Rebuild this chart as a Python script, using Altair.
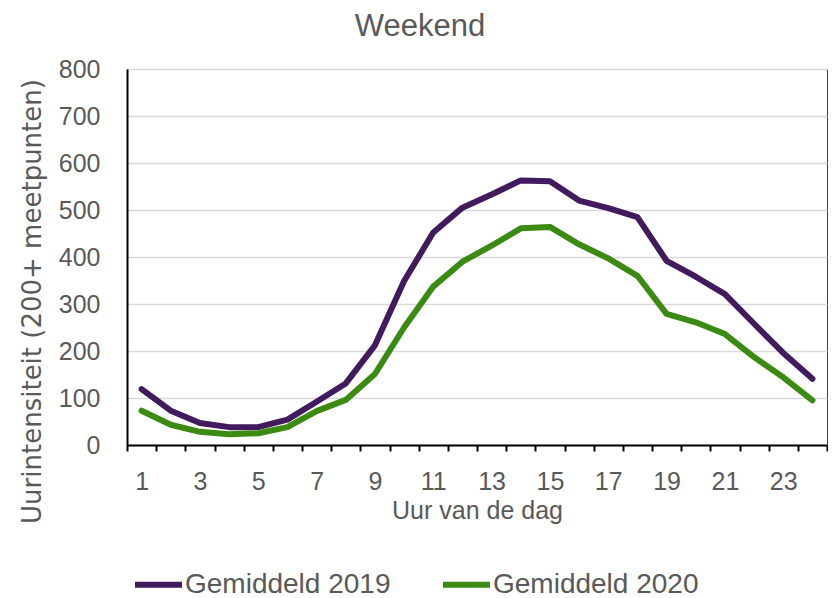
import altair as alt
import pandas as pd

hours = list(range(1, 25))
v2019 = [119, 73, 47, 38, 38, 54, 92, 131, 212, 349, 452, 505, 533, 563, 561, 520, 504, 485, 392, 358, 321, 258, 196, 141]
v2020 = [73, 43, 28, 23, 25, 38, 72, 96, 151, 250, 337, 390, 424, 461, 464, 427, 397, 360, 279, 261, 236, 187, 144, 95]
series_names = ["Gemiddeld 2019", "Gemiddeld 2020"]
colors = ["#421a5e", "#3b8a12"]

rows = []
for h, a, b in zip(hours, v2019, v2020):
    rows.append({"hour": h, "value": a, "series": series_names[0]})
    rows.append({"hour": h, "value": b, "series": series_names[1]})
df = pd.DataFrame(rows)

FONT = "Liberation Sans"
GRAY = "#595959"

chart = alt.Chart(df).mark_line(strokeWidth=6, strokeCap="round", strokeJoin="round").encode(
    x=alt.X("hour:O", bandPosition=0.5,
            scale=alt.Scale(type="band", paddingInner=0, paddingOuter=0),
            axis=alt.Axis(title="Uur van de dag", tickBand="extent", labelAngle=0,
                          labelExpr="datum.value % 2 == 1 ? datum.label : ''",
                          domainColor="black", domainWidth=2, tickColor="black", tickWidth=2, tickSize=6,
                          labelFont=FONT, labelFontSize=25, labelColor=GRAY, labelPadding=18,
                          titleFont=FONT, titleFontSize=25, titleColor=GRAY, titleFontWeight="normal",
                          titlePadding=4, grid=False)),
    y=alt.Y("value:Q", scale=alt.Scale(domain=[0, 800], nice=False),
            axis=alt.Axis(title="Uurintensiteit  (200+ meetpunten)", values=list(range(0, 801, 100)),
                          domainColor="black", domainWidth=2, ticks=False,
                          labelFont=FONT, labelFontSize=25, labelColor=GRAY, labelPadding=27,
                          titleFont="DejaVu Sans", titleFontSize=26, titleColor=GRAY, titleFontWeight="normal",
                          titleX=-87, titleY=232, titleAngle=-90, titleBaseline="alphabetic",
                          titleAlign="center", grid=True, gridColor="#d9d9d9", gridWidth=1.5)),
    color=alt.Color("series:N", scale=alt.Scale(domain=series_names, range=colors),
                    legend=alt.Legend(title=None, orient="none", direction="horizontal",
                                      legendX=5, legendY=489, padding=0, symbolType="stroke",
                                      symbolStrokeWidth=6, symbolSize=2209, columnPadding=40,
                                      labelFont=FONT, labelFontSize=28, labelColor=GRAY,
                                      labelOffset=0, labelLimit=400)),
).properties(
    width=700,
    height=376,
    title=alt.TitleParams("Weekend", font=FONT, fontSize=31, color=GRAY, fontWeight="normal",
                          anchor="middle", dx=-57, offset=14),
    autosize=alt.AutoSizeParams(type="none"),
    padding={"left": 119, "top": 61, "right": 1, "bottom": 156},
).configure_view(stroke="#404040", strokeWidth=1)

chart.save("out.html", embed_options={"renderer": "svg", "actions": False})
